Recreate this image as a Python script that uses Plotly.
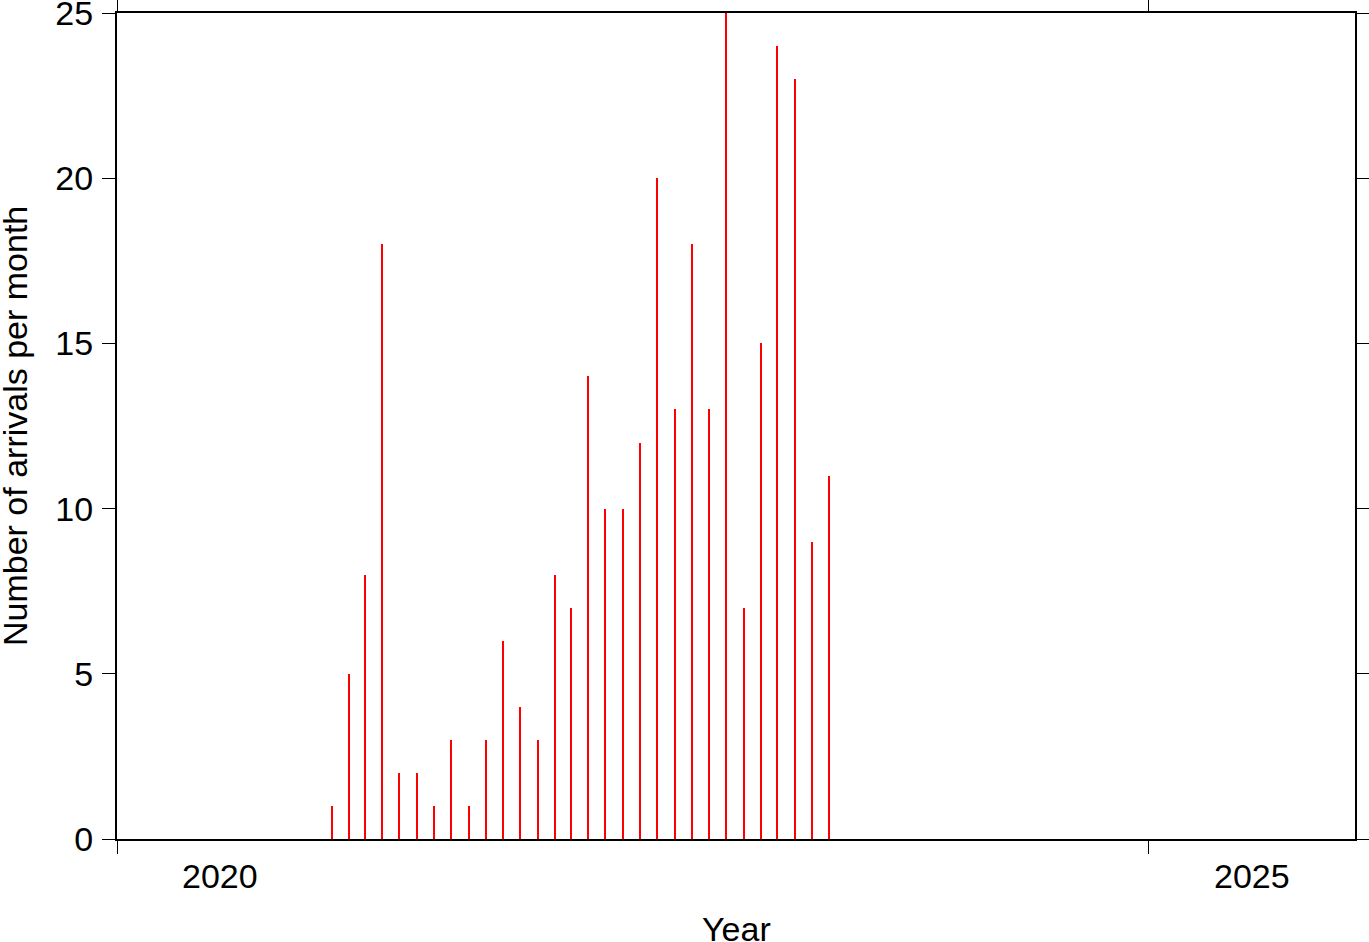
import plotly.graph_objects as go

months = [
    "2021-01-15", "2021-02-15", "2021-03-15", "2021-04-15", "2021-05-15", "2021-06-15",
    "2021-07-15", "2021-08-15", "2021-09-15", "2021-10-15", "2021-11-15", "2021-12-15",
    "2022-01-15", "2022-02-15", "2022-03-15", "2022-04-15", "2022-05-15", "2022-06-15",
    "2022-07-15", "2022-08-15", "2022-09-15", "2022-10-15", "2022-11-15", "2022-12-15",
    "2023-01-15", "2023-02-15", "2023-03-15", "2023-04-15", "2023-05-15", "2023-06-15",
]
arrivals = [1, 5, 8, 18, 2, 2, 1, 3, 1, 3, 6, 4,
            3, 8, 7, 14, 10, 10, 12, 20, 13, 18, 13, 25,
            7, 15, 24, 23, 9, 11]

year_ticks = ["2020-01-01", "2025-01-01"]
year_label_pos = ["2020-07-02", "2025-07-02"]
year_labels = ["2020", "2025"]

FONT = "Liberation Sans, Arial, Helvetica, sans-serif"
FS = 34
DAY_MS = 86400000

fig = go.Figure()
fig.add_trace(go.Bar(
    x=months, y=arrivals,
    width=[2.2 * DAY_MS] * len(arrivals),
    marker=dict(color="#ff0000", line=dict(width=0)),
    showlegend=False,
))

for pos, lab in zip(year_label_pos, year_labels):
    fig.add_annotation(x=pos, y=0, xref="x", yref="paper", text=lab,
                       showarrow=False, yanchor="top", yshift=-16,
                       font=dict(family=FONT, size=FS, color="black"))

# x-axis title
fig.add_annotation(x=0.5, y=0, xref="paper", yref="paper", text="Year",
                   showarrow=False, yanchor="top", yshift=-69,
                   font=dict(family=FONT, size=FS, color="black"))

# y-axis title
fig.add_annotation(x=0, y=0.5, xref="paper", yref="paper",
                   text="Number of arrivals per month", textangle=-90,
                   showarrow=False, xanchor="center", yanchor="middle", xshift=-102,
                   font=dict(family=FONT, size=FS, color="black"))

fig.update_layout(
    width=1369, height=942,
    margin=dict(l=117, r=14, t=13, b=103),
    paper_bgcolor="white", plot_bgcolor="white",
    font=dict(family=FONT, size=FS, color="black"),
    bargap=0,
    xaxis=dict(
        type="date", range=["2020-01-01", "2026-01-01"], automargin=False,
        tickmode="array", tickvals=year_ticks, showticklabels=False,
        ticks="outside", ticklen=13, tickwidth=1, tickcolor="black",
        showline=True, linewidth=2, linecolor="black", mirror="ticks",
        showgrid=False, zeroline=False,
    ),
    yaxis=dict(
        range=[0, 25], tickmode="linear", tick0=0, dtick=5, automargin=False,
        ticks="outside", ticklen=13, tickwidth=1, tickcolor="black",
        showline=True, linewidth=2, linecolor="black", mirror="ticks",
        showgrid=False, zeroline=False,
        tickfont=dict(family=FONT, size=FS),
        ticklabelstandoff=2, ticklabeloverflow="allow",
    ),
)

fig.write_html("out.html",
               config={"displayModeBar": False},
               post_script="document.body.style.margin='0';document.body.style.overflow='hidden';")
